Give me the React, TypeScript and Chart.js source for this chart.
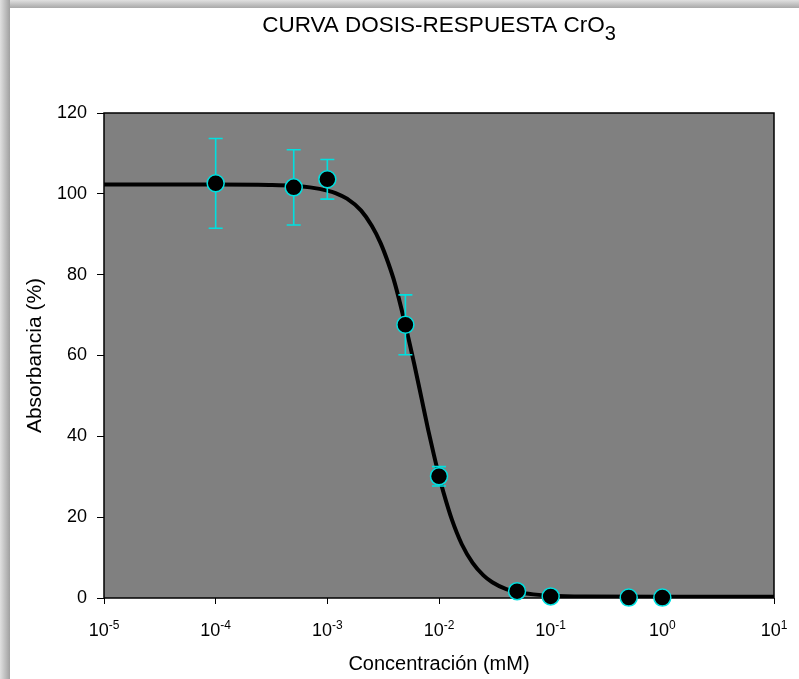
import React, { useEffect, useRef } from "react";
import { Chart, registerables } from "chart.js";

Chart.register(...registerables);

// ---- data ----
const concentrations = [1e-4, 5e-4, 1e-3, 5e-3, 1e-2, 5e-2, 1e-1, 5e-1, 1];
const absorbance = [102.6, 101.6, 103.6, 67.6, 30.1, 1.7, 0.4, 0.1, 0.1];
const errors = [11.1, 9.3, 4.9, 7.4, 2.4, 0, 0, 0, 0];

const curveX = [1e-5, 1e-4, 3e-4, 5e-4, 7e-4, 1e-3, 1.2e-3, 1.5e-3, 2e-3, 2.5e-3, 3e-3, 3.5e-3, 4e-3, 5e-3, 6e-3, 7e-3, 8e-3, 9e-3, 1e-2, 1.1e-2, 1.3e-2, 1.6e-2, 2e-2, 2.5e-2, 3e-2, 4e-2, 5e-2, 7e-2, 1e-1, 2e-1, 1, 10];
const curveY = [102.3, 102.3, 102.2, 102.0, 101.6, 100.8, 100.1, 98.8, 95.9, 92.1, 87.8, 83.0, 78.1, 67.5, 57.9, 49.2, 41.6, 35.4, 30.2, 26.0, 19.5, 13.3, 8.7, 5.6, 3.9, 2.2, 1.5, 0.9, 0.55, 0.35, 0.3, 0.3];

const yTicks = [0, 20, 40, 60, 80, 100, 120];
const xTickExponents = [-5, -4, -3, -2, -1, 0, 1];

const titleMain = "CURVA DOSIS-RESPUESTA CrO";
const titleSub = "3";
const xTitle = "Concentración (mM)";
const yTitle = "Absorbancia (%)";

const FONT = "'Liberation Sans', Arial, sans-serif";
const CYAN = "#00e0e0";

const W = 799;
const H = 679;

const decorPlugin = {
  id: "decor",
  beforeDraw(chart: any) {
    const { ctx, chartArea: a } = chart;
    ctx.save();
    ctx.fillStyle = "#808080";
    ctx.fillRect(a.left, a.top, a.right - a.left, a.bottom - a.top);
    ctx.restore();
  },
  beforeDatasetsDraw(chart: any) {
    const { ctx, chartArea: a } = chart;
    ctx.save();
    ctx.strokeStyle = "#000";
    ctx.lineWidth = 1.5;
    ctx.strokeRect(a.left, a.top, a.right - a.left, a.bottom - a.top);
    ctx.restore();
  },
  beforeDatasetDraw(chart: any, args: any) {
    if (args.index !== 0) return;
    const { ctx } = chart;
    const xs = chart.scales.x;
    const ys = chart.scales.y;
    ctx.save();
    ctx.strokeStyle = CYAN;
    ctx.lineWidth = 1.6;
    concentrations.forEach((c, i) => {
      const e = errors[i];
      if (!e) return;
      const px = xs.getPixelForValue(c);
      const top = ys.getPixelForValue(absorbance[i] + e);
      const bot = ys.getPixelForValue(absorbance[i] - e);
      ctx.beginPath();
      ctx.moveTo(px, top);
      ctx.lineTo(px, bot);
      ctx.moveTo(px - 7, top);
      ctx.lineTo(px + 7, top);
      ctx.moveTo(px - 7, bot);
      ctx.lineTo(px + 7, bot);
      ctx.stroke();
    });
    ctx.restore();
  },
  afterDraw(chart: any) {
    const { ctx, chartArea: a } = chart;
    const xs = chart.scales.x;
    ctx.save();
    ctx.fillStyle = "#000";
    ctx.textBaseline = "alphabetic";

    // title with subscript
    ctx.font = `22.5px ${FONT}`;
    const wMain = ctx.measureText(titleMain).width;
    ctx.font = `20px ${FONT}`;
    const wSub = ctx.measureText(titleSub).width;
    const cx = (a.left + a.right) / 2;
    const tx = cx - (wMain + wSub) / 2;
    ctx.textAlign = "left";
    ctx.font = `22.5px ${FONT}`;
    ctx.fillText(titleMain, tx, 32);
    ctx.font = `20px ${FONT}`;
    ctx.fillText(titleSub, tx + wMain, 40);

    // x tick labels 10^n
    xTickExponents.forEach((ex) => {
      const px = xs.getPixelForValue(Math.pow(10, ex));
      const base = "10";
      const sup = String(ex);
      ctx.font = `18px ${FONT}`;
      const wb = ctx.measureText(base).width;
      ctx.font = `12px ${FONT}`;
      const ws = ctx.measureText(sup).width;
      const sx = px - (wb + ws) / 2;
      ctx.font = `18px ${FONT}`;
      ctx.fillText(base, sx, 636);
      ctx.font = `12px ${FONT}`;
      ctx.fillText(sup, sx + wb, 629);
    });

    // x axis title
    ctx.font = `20px ${FONT}`;
    ctx.textAlign = "center";
    ctx.fillText(xTitle, cx, 670);

    // y axis title
    ctx.font = `21px ${FONT}`;
    ctx.translate(41, (a.top + a.bottom) / 2);
    ctx.rotate(-Math.PI / 2);
    ctx.fillText(yTitle, 0, 0);
    ctx.restore();
  },
};

export default function App() {
  const ref = useRef<HTMLCanvasElement | null>(null);

  useEffect(() => {
    if (!ref.current) return;
    const chart = new Chart(ref.current, {
      type: "scatter",
      data: {
        datasets: [
          {
            label: "Datos",
            data: concentrations.map((c, i) => ({ x: c, y: absorbance[i] })),
            pointRadius: 8.5,
            pointBackgroundColor: "#000",
            pointBorderColor: CYAN,
            pointBorderWidth: 1.5,
            showLine: false,
            clip: false as any,
            order: 1,
          },
          {
            label: "Ajuste",
            data: curveX.map((c, i) => ({ x: c, y: curveY[i] })),
            showLine: true,
            borderColor: "#000",
            borderWidth: 4,
            pointRadius: 0,
            cubicInterpolationMode: "monotone",
            order: 2,
          },
        ],
      },
      options: {
        responsive: false,
        animation: false,
        devicePixelRatio: 1,
        layout: { padding: { left: 0, top: 113, right: 25, bottom: 0 } },
        plugins: {
          legend: { display: false },
          title: { display: false },
          tooltip: { enabled: false },
        },
        scales: {
          x: {
            type: "logarithmic",
            min: 1e-5,
            max: 10,
            afterBuildTicks: (s: any) => {
              s.ticks = xTickExponents.map((e) => ({ value: Math.pow(10, e), major: true }));
            },
            afterFit: (s: any) => {
              s.height = 81;
            },
            border: { display: false },
            grid: { drawOnChartArea: false, drawTicks: true, tickLength: 6, color: "#000", lineWidth: 1 },
            ticks: { display: false },
          },
          y: {
            min: 0,
            max: 120,
            afterBuildTicks: (s: any) => {
              s.ticks = yTicks.map((v) => ({ value: v }));
            },
            afterFit: (s: any) => {
              s.width = 104;
            },
            border: { display: false },
            grid: { drawOnChartArea: false, drawTicks: true, tickLength: 7, color: "#000", lineWidth: 1 },
            ticks: { color: "#000", font: { family: FONT, size: 18 }, padding: 10 },
          },
        },
      },
      plugins: [decorPlugin],
    });
    return () => chart.destroy();
  }, []);

  return (
    <div style={{ position: "absolute", left: 0, top: 0, width: W, height: H, background: "#fff", overflow: "hidden" }}>
      <canvas ref={ref} width={W} height={H} style={{ position: "absolute", left: 0, top: 0, width: W, height: H }} />
      <div
        style={{
          position: "absolute",
          left: 0,
          top: 0,
          width: W,
          height: 8,
          background: "linear-gradient(to bottom, #e0e0e0, #a8a8a8)",
        }}
      />
      <div
        style={{
          position: "absolute",
          left: 0,
          top: 0,
          width: 10,
          height: H,
          background: "linear-gradient(to right, #e0e0e0, #a0a0a0)",
        }}
      />
    </div>
  );
}
